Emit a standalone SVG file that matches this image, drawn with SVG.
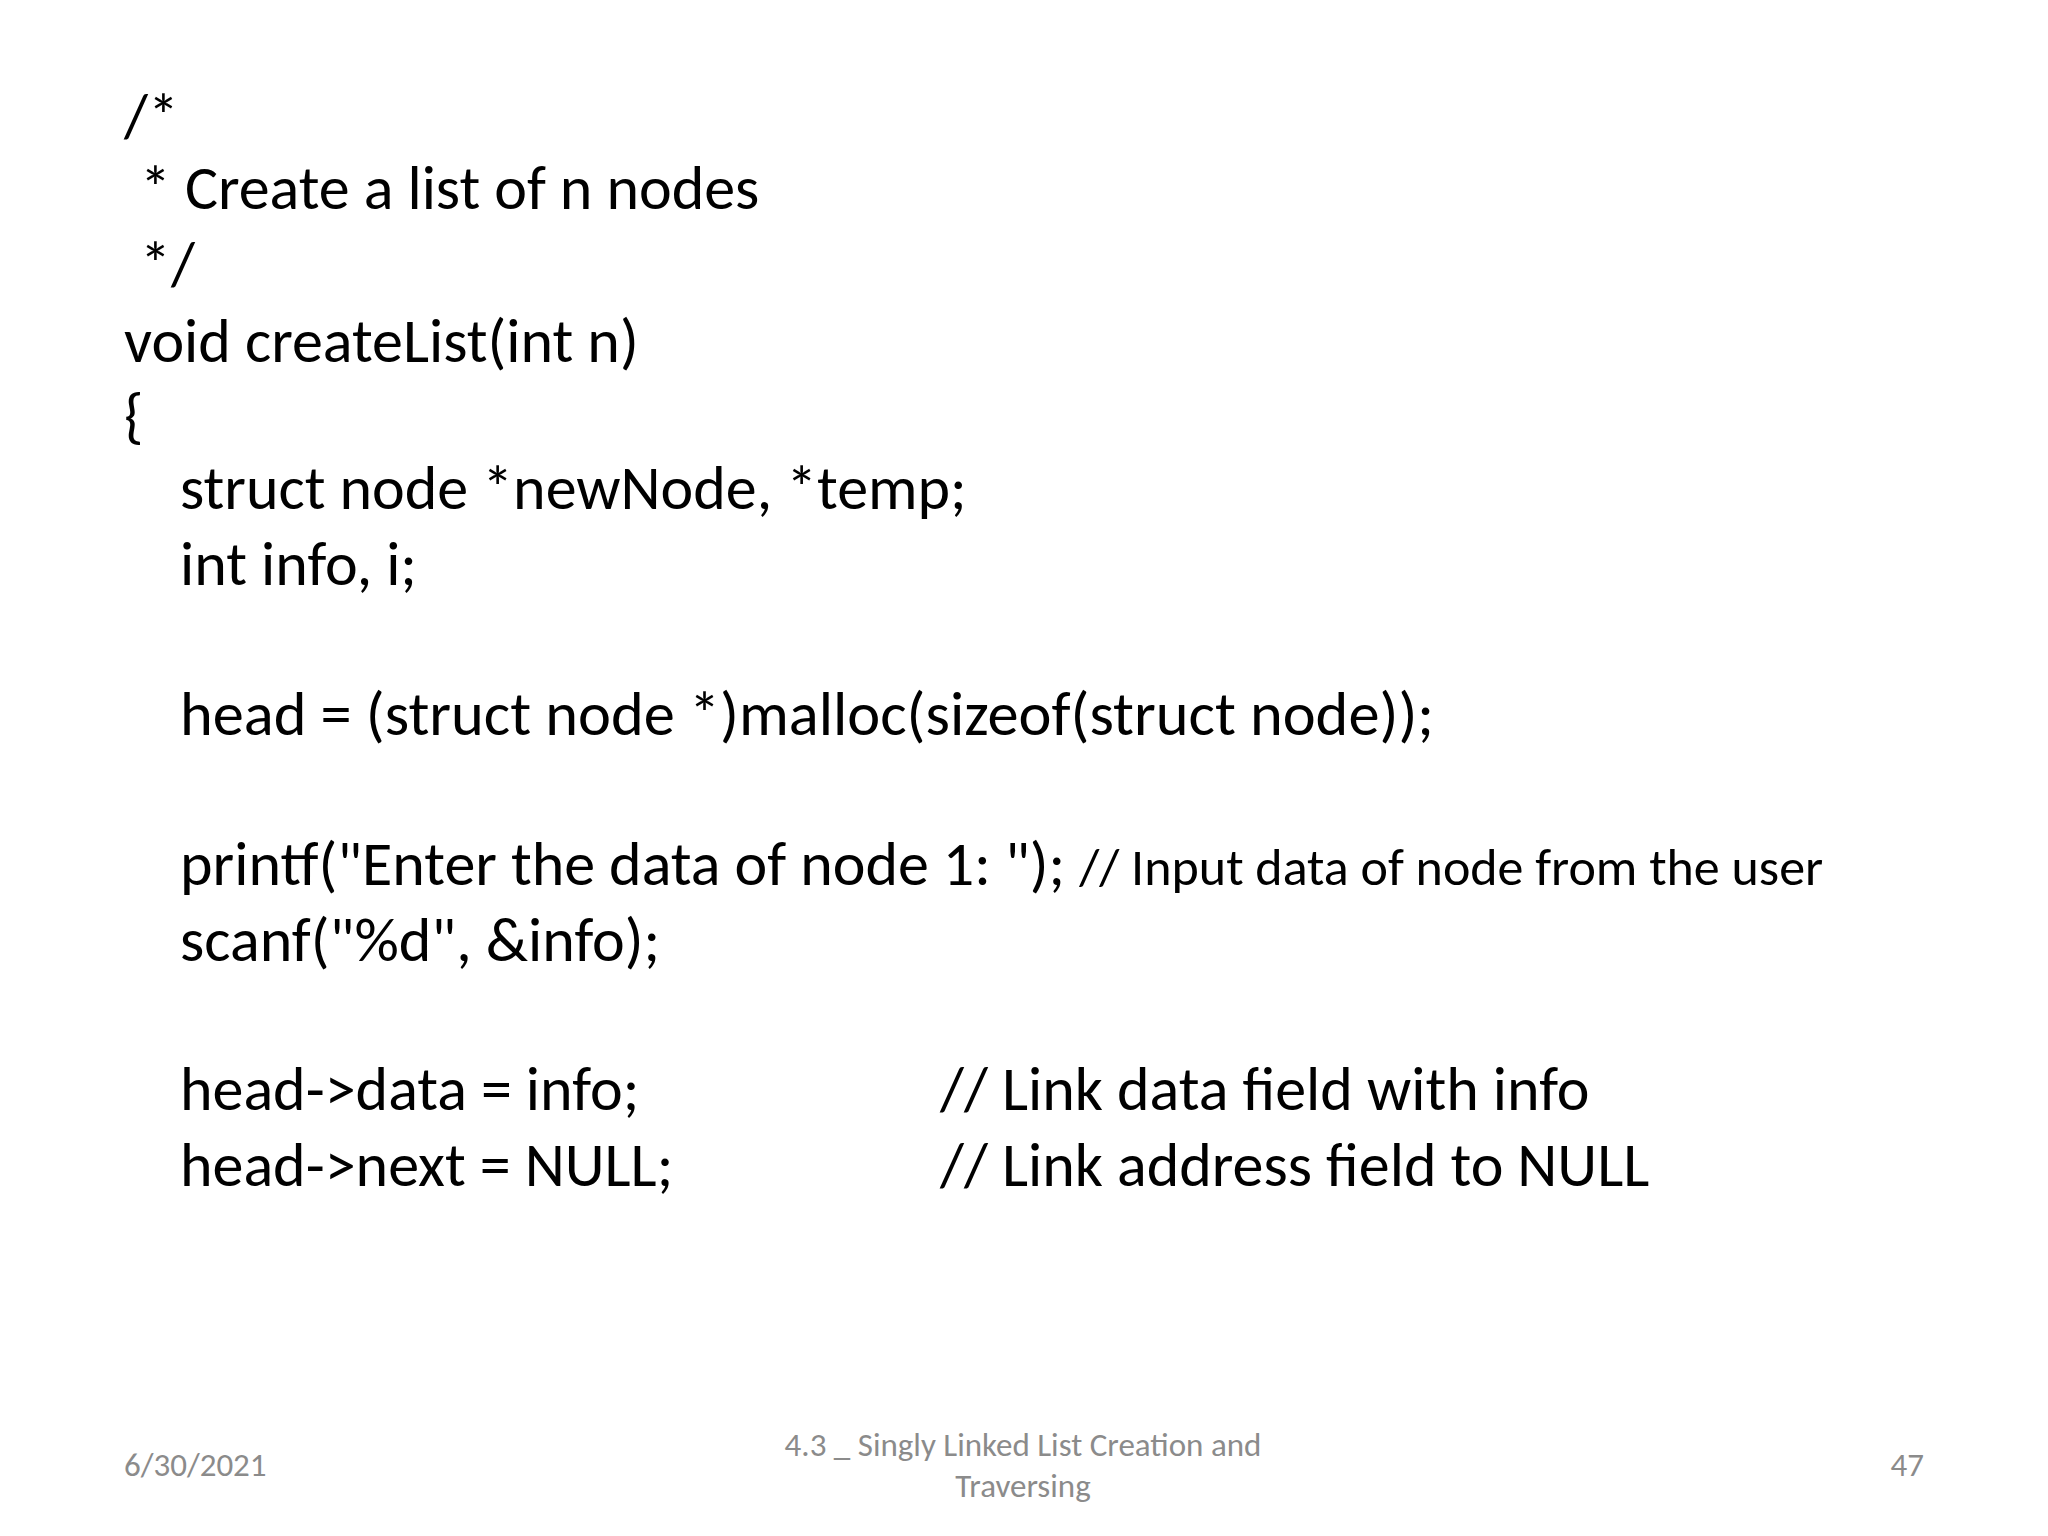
<svg xmlns="http://www.w3.org/2000/svg" width="2048" height="1536" viewBox="0 0 2048 1536">
<style>
.c{font-family:Carlito,Lato,"Open Sans",sans-serif;font-size:62px;fill:#000}
.s{font-size:52px}
.f{font-family:Carlito,Lato,"Open Sans",sans-serif;font-size:33px;fill:#8b8b8b}
</style>
<rect width="2048" height="1536" fill="#fff"/>
<g id="code">
<text class="c" x="124" y="137">/*</text>
<text class="c" x="140" y="209">* Create a list of n nodes</text>
<text class="c" x="140" y="285">*/</text>
<text class="c" x="124" y="362">void createList(int n)</text>
<text class="c" x="124" y="437">{</text>
<text class="c" x="180" y="509">struct node *newNode, *temp;</text>
<text class="c" x="180" y="585">int info, i;</text>
<text class="c" x="180" y="735" textLength="1254" lengthAdjust="spacingAndGlyphs">head = (struct node *)malloc(sizeof(struct node));</text>
<text class="c" x="180" y="885">printf("Enter the data of node 1: "); <tspan class="s">// Input data of node from the user</tspan></text>
<text class="c" x="180" y="961">scanf("%d", &amp;info);</text>
<text class="c" x="180" y="1110">head-&gt;data = info;</text>
<text class="c" x="940" y="1110">// Link data field with info</text>
<text class="c" x="180" y="1186">head-&gt;next = NULL;</text>
<text class="c" x="940" y="1186">// Link address field to NULL</text>
</g>
<g id="footer">
<text class="f" x="124" y="1476">6/30/2021</text>
<text class="f" x="1023" y="1456" text-anchor="middle">4.3 _ Singly Linked List Creation and</text>
<text class="f" x="1023" y="1497" text-anchor="middle">Traversing</text>
<text class="f" x="1924" y="1476" text-anchor="end">47</text>
</g>
</svg>
